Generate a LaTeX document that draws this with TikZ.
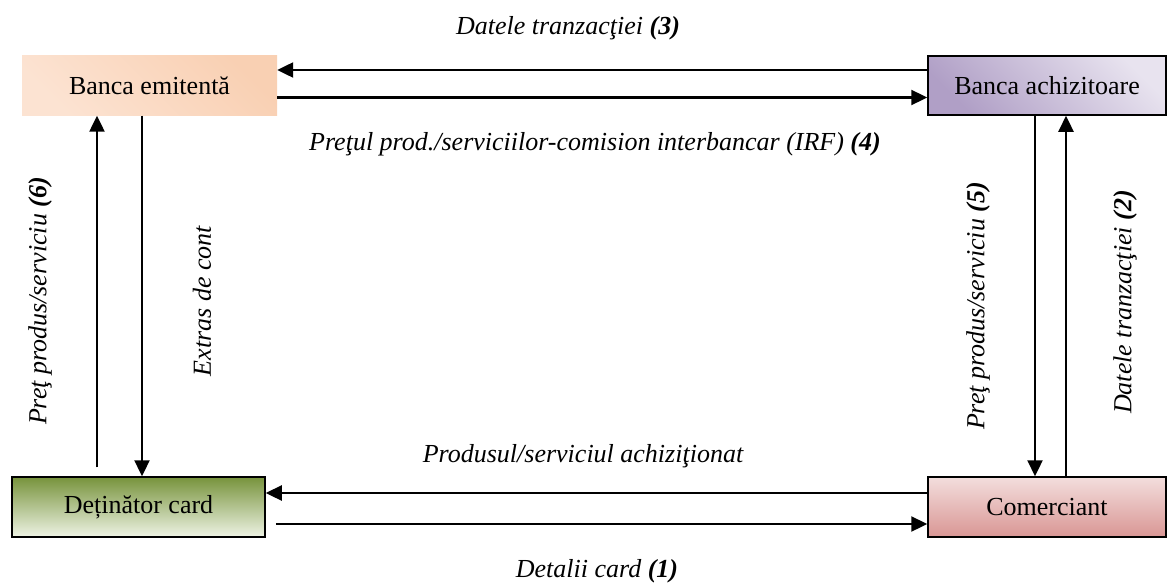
\documentclass[tikz,border=0pt]{standalone}
\usepackage{fontspec}
\setmainfont{Liberation Serif}
\usetikzlibrary{arrows.meta}
\definecolor{peachD}{HTML}{F9D0B3}
\definecolor{peachL}{HTML}{FCE3D2}
\definecolor{purD}{HTML}{B09FC6}
\definecolor{purL}{HTML}{E8E3EF}
\definecolor{grnD}{HTML}{77933C}
\definecolor{grnL}{HTML}{EEF3E4}
\definecolor{pnkL}{HTML}{F3DEDD}
\definecolor{pnkD}{HTML}{D99694}
\tikzset{
  box/.style={rectangle, minimum height=60pt, inner sep=0pt, font=\fontsize{26}{30}\selectfont},
  bordered/.style={box, draw=black, line width=1.5pt},
  arr/.style={line width=2.3pt, -{Triangle[length=16pt,width=15pt]}},
  lbl/.style={font=\fontsize{26}{30}\selectfont\itshape, inner sep=0pt},
}
\begin{document}
\begin{tikzpicture}[x=1pt,y=-1pt]
\useasboundingbox (0,0) rectangle (1169,586);
% nodes
\node[box, minimum width=255pt, top color=peachD, bottom color=peachL, shading angle=-45] (BE) at (149.5,85.5) {Banca emitentă};
\node[bordered, minimum width=238pt, minimum height=59pt, top color=purD, bottom color=purL, shading angle=135] (BA) at (1047,85.5) {Banca achizitoare};
\node[bordered, minimum width=253pt, top color=grnD, bottom color=grnL] (DC) at (138.5,507) {Deținător card};
\node[bordered, minimum width=238pt, top color=pnkL, bottom color=pnkD] (CO) at (1047,507) {Comerciant};
% top connectors
\draw[arr] ([yshift=15.5pt]BA.west) -- ([yshift=15.5pt]BE.east);
\draw[arr] ([yshift=-12pt]BE.east) -- ([yshift=-12pt]BA.west);
% left connectors
\draw[arr] ([xshift=-41.5pt,yshift=9pt]DC.north) -- ([xshift=-52.5pt]BE.south);
\draw[arr] ([xshift=-7.5pt]BE.south) -- ([xshift=3.5pt]DC.north);
% right connectors
\draw[arr] ([xshift=-12pt]BA.south) -- ([xshift=-12pt]CO.north);
\draw[arr] ([xshift=19pt]CO.north) -- ([xshift=19pt]BA.south);
% bottom connectors
\draw[arr] ([yshift=14pt]CO.west) -- ([yshift=14pt]DC.east);
\draw[arr] ([xshift=10pt,yshift=-17pt]DC.east) -- ([yshift=-17pt]CO.west);
% labels
\node[lbl, anchor=base] (l3) at (568,35) {Datele tranzacţiei \textbf{(3)}};
\node[lbl, anchor=base] (l4) at (595,150) {Preţul prod./serviciilor-comision interbancar (IRF) \textbf{(4)}};
\node[lbl, anchor=base] (lp) at (583,462) {Produsul/serviciul achiziţionat};
\node[lbl, anchor=base] (l1) at (597,577) {Detalii card \textbf{(1)}};
\node[lbl, rotate=90] (l6) at (40,301) {Preţ produs/serviciu \textbf{(6)}};
\node[lbl, rotate=90] (le) at (202,301) {Extras de cont};
\node[lbl, rotate=90] (l5) at (978,306) {Preţ produs/serviciu \textbf{(5)}};
\node[lbl, rotate=90] (l2) at (1125,302) {Datele tranzacţiei \textbf{(2)}};
\end{tikzpicture}
\end{document}
